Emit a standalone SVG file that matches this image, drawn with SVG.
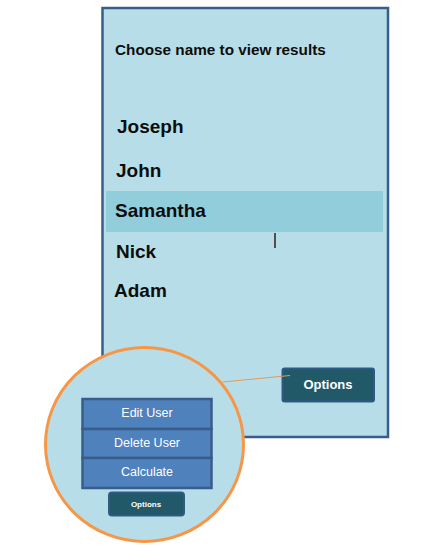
<svg xmlns="http://www.w3.org/2000/svg" width="432" height="548" viewBox="0 0 432 548">
<style>
.bg{fill:#b7dee8}
.name{font-family:"Liberation Sans",Arial,sans-serif;font-weight:bold;font-size:19px;fill:#0d0d0d}
.menu{fill:#4f81bd;stroke:#385d8a;stroke-width:2.5}
.mtxt{font-family:"Liberation Sans",Arial,sans-serif;font-size:12.5px;fill:#ffffff;text-anchor:middle}
.btn{fill:#215968;stroke:#2f5a85;stroke-width:2}
.btxt{font-family:"Liberation Sans",Arial,sans-serif;font-weight:bold;fill:#ffffff;text-anchor:middle}
</style>
<rect width="432" height="548" fill="#ffffff"/>
<g id="screen">
<rect x="102.5" y="8" width="285.5" height="429" class="bg" stroke="#385d8a" stroke-width="2.5"/>
<text x="115" y="55" font-family="Liberation Sans,Arial,sans-serif" font-weight="bold" font-size="15.3" fill="#0d0d0d">Choose name to view results</text>
</g>
<g id="name-joseph"><text class="name" x="117" y="133">Joseph</text></g>
<g id="name-john"><text class="name" x="116" y="177">John</text></g>
<g id="name-samantha">
<rect x="106" y="191" width="277" height="41" fill="#92cddc"/>
<text class="name" x="115" y="217">Samantha</text>
</g>
<g id="name-nick"><text class="name" x="116" y="258">Nick</text></g>
<g id="name-adam"><text class="name" x="114" y="297">Adam</text></g>
<g id="cursor"><line x1="275" y1="233" x2="275" y2="248" stroke="#3b1a22" stroke-width="1.5"/></g>
<g id="options-button">
<rect x="282.5" y="368.5" width="91.5" height="33" rx="2" class="btn"/>
<text class="btxt" x="328" y="389" font-size="13">Options</text>
</g>
<g id="zoom-circle">
<ellipse cx="144.5" cy="444.5" rx="99" ry="97" class="bg" stroke="#f79646" stroke-width="3"/>
</g>
<g id="connectors">
<line x1="223" y1="382" x2="290" y2="375.5" stroke="#e0995e" stroke-width="1"/>
</g>
<g id="menu-edit">
<rect x="82.5" y="399" width="129" height="30" class="menu"/>
<text class="mtxt" x="147" y="417">Edit User</text>
</g>
<g id="menu-delete">
<rect x="82.5" y="429" width="129" height="29" class="menu"/>
<text class="mtxt" x="147" y="447">Delete User</text>
</g>
<g id="menu-calculate">
<rect x="82.5" y="458" width="129" height="30" class="menu"/>
<text class="mtxt" x="147" y="476">Calculate</text>
</g>
<g id="small-options">
<rect x="109" y="492.5" width="75" height="23" rx="3" class="btn"/>
<text class="btxt" x="146" y="507" font-size="8">Options</text>
</g>
</svg>
